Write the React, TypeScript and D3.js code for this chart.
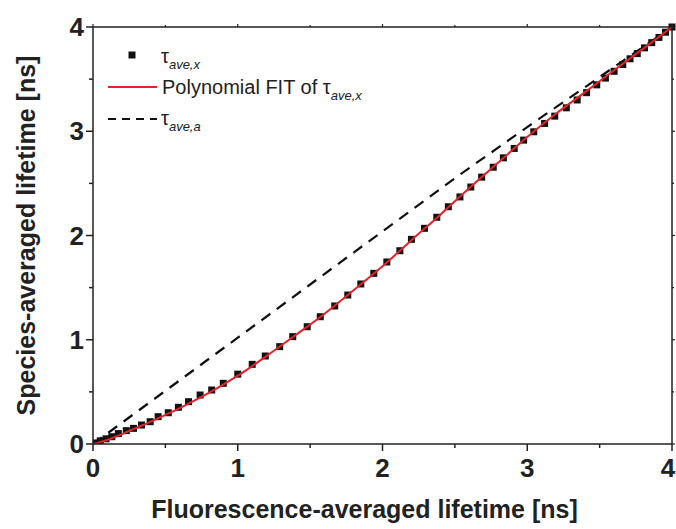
import React from "react";
import * as d3 from "d3";

const tauX_x = [0.02,0.05,0.09,0.13,0.175,0.23,0.28,0.335,0.395,0.45,0.52,0.59,0.66,0.74,0.82,0.9,1.0,1.1,1.19,1.29,1.38,1.48,1.57,1.67,1.76,1.85,1.94,2.03,2.12,2.2,2.29,2.375,2.455,2.535,2.61,2.685,2.765,2.835,2.91,2.975,3.045,3.12,3.19,3.27,3.345,3.41,3.48,3.54,3.6,3.66,3.71,3.76,3.81,3.86,3.91,3.955,4.0];
const tauX_y = [0.01,0.03,0.05,0.07,0.1,0.128,0.15,0.182,0.214,0.262,0.3,0.352,0.406,0.47,0.518,0.582,0.67,0.764,0.844,0.934,1.03,1.125,1.221,1.324,1.429,1.535,1.637,1.746,1.854,1.963,2.069,2.175,2.276,2.37,2.465,2.56,2.655,2.745,2.835,2.915,2.995,3.075,3.145,3.225,3.3,3.37,3.445,3.51,3.575,3.64,3.695,3.745,3.8,3.85,3.9,3.95,4.0];

const fit_x = [0,0.1,0.2,0.3,0.4,0.5,0.6,0.7,0.8,0.9,1.0,1.2,1.4,1.6,1.8,2.0,2.2,2.4,2.6,2.8,3.0,3.2,3.4,3.6,3.8,4.0];
const fit_y = [0,0.04,0.095,0.155,0.215,0.28,0.345,0.415,0.49,0.57,0.655,0.845,1.045,1.25,1.475,1.705,1.955,2.2,2.455,2.7,2.945,3.17,3.375,3.585,3.79,4.0];

const tauA_x = [0,0.5,1,1.5,2,2.5,3,3.5,4];
const tauA_y = [0,0.51,1.02,1.53,2.04,2.55,3.04,3.52,4];

const majorTicks = [0,1,2,3,4];
const minorTicks = [0.5,1.5,2.5,3.5];

const W = 676, H = 529;
const L = 93, R = 672, T = 27, B = 444;
const FONT = "'Liberation Sans', Arial, Helvetica, sans-serif";

export default function App() {
  const x = d3.scaleLinear().domain([0, 4]).range([L, R]);
  const y = d3.scaleLinear().domain([0, 4]).range([B, T]);
  const line = d3.line<[number, number]>().x(d => x(d[0])).y(d => y(d[1]));
  const curve = d3.line<[number, number]>().x(d => x(d[0])).y(d => y(d[1])).curve(d3.curveMonotoneX);
  const fitPts = fit_x.map((v, i) => [v, fit_y[i]] as [number, number]);
  const aPts = tauA_x.map((v, i) => [v, tauA_y[i]] as [number, number]);
  const sq = 7;
  return (
    <svg width={W} height={H} style={{ position: "absolute", left: 0, top: 0, background: "#fff" }}>
      <rect x={0} y={0} width={W} height={H} fill="#fff" />
      <defs>
        <clipPath id="plot"><rect x={L} y={T - 4} width={R - L + 4} height={B - T + 4} /></clipPath>
      </defs>
      <g clipPath="url(#plot)">
        {tauX_x.map((v, i) => (
          <rect key={i} x={x(v) - sq / 2} y={y(tauX_y[i]) - sq / 2} width={sq} height={sq} fill="#111" />
        ))}
        <path d={line(aPts) || ""} fill="none" stroke="#111" strokeWidth={2.2} strokeDasharray="11,8" />
        <path d={curve(fitPts) || ""} fill="none" stroke="#e8202a" strokeWidth={2} />
      </g>
      <rect x={L} y={T} width={R - L} height={B - T} fill="none" stroke="#222" strokeWidth={1.5} />
      {majorTicks.map(t => (
        <g key={"M" + t}>
          <line x1={x(t)} x2={x(t)} y1={B} y2={B + 7} stroke="#222" strokeWidth={1.5} />
          <line x1={L} x2={L - 7} y1={y(t)} y2={y(t)} stroke="#222" strokeWidth={1.5} />
          <line x1={x(t)} x2={x(t)} y1={T} y2={T - 3} stroke="#222" strokeWidth={1.2} />
          <line x1={R} x2={R + 3} y1={y(t)} y2={y(t)} stroke="#222" strokeWidth={1.2} />
          <text x={Math.min(x(t), W - 8)} y={B + 33} textAnchor="middle" fontFamily={FONT} fontWeight="bold" fontSize={26} fill="#222">{t}</text>
          <text x={L - 9} y={y(t) + 9} textAnchor="end" fontFamily={FONT} fontWeight="bold" fontSize={26} fill="#222">{t}</text>
        </g>
      ))}
      {minorTicks.map(t => (
        <g key={"m" + t}>
          <line x1={x(t)} x2={x(t)} y1={B} y2={B + 4} stroke="#222" strokeWidth={1.5} />
          <line x1={L} x2={L - 4} y1={y(t)} y2={y(t)} stroke="#222" strokeWidth={1.5} />
          <line x1={x(t)} x2={x(t)} y1={T} y2={T - 2} stroke="#222" strokeWidth={1.2} />
          <line x1={R} x2={R + 2} y1={y(t)} y2={y(t)} stroke="#222" strokeWidth={1.2} />
        </g>
      ))}
      <text x={(L + R) / 2 - 18} y={518} textAnchor="middle" fontFamily={FONT} fontWeight="bold" fontSize={25} fill="#222">Fluorescence-averaged lifetime [ns]</text>
      <text transform={`translate(35,${(T + B) / 2}) rotate(-90)`} textAnchor="middle" fontFamily={FONT} fontWeight="bold" fontSize={25} fill="#222">Species-averaged lifetime [ns]</text>
      <rect x={132 - 3.5} y={55 - 3.5} width={7} height={7} fill="#111" />
      <text x={161} y={63} fontFamily={FONT} fontSize={20} fill="#222">τ<tspan fontSize={13} fontStyle="italic" dy={6}>ave,x</tspan></text>
      <line x1={108} x2={157} y1={87} y2={87} stroke="#e8202a" strokeWidth={2} />
      <text x={162} y={94} fontFamily={FONT} fontSize={20} fill="#222">Polynomial FIT of τ<tspan fontSize={13} fontStyle="italic" dy={6}>ave,x</tspan></text>
      <line x1={108} x2={157} y1={119} y2={119} stroke="#111" strokeWidth={2.2} strokeDasharray="8,6" />
      <text x={161} y={125} fontFamily={FONT} fontSize={20} fill="#222">τ<tspan fontSize={13} fontStyle="italic" dy={6}>ave,a</tspan></text>
    </svg>
  );
}
